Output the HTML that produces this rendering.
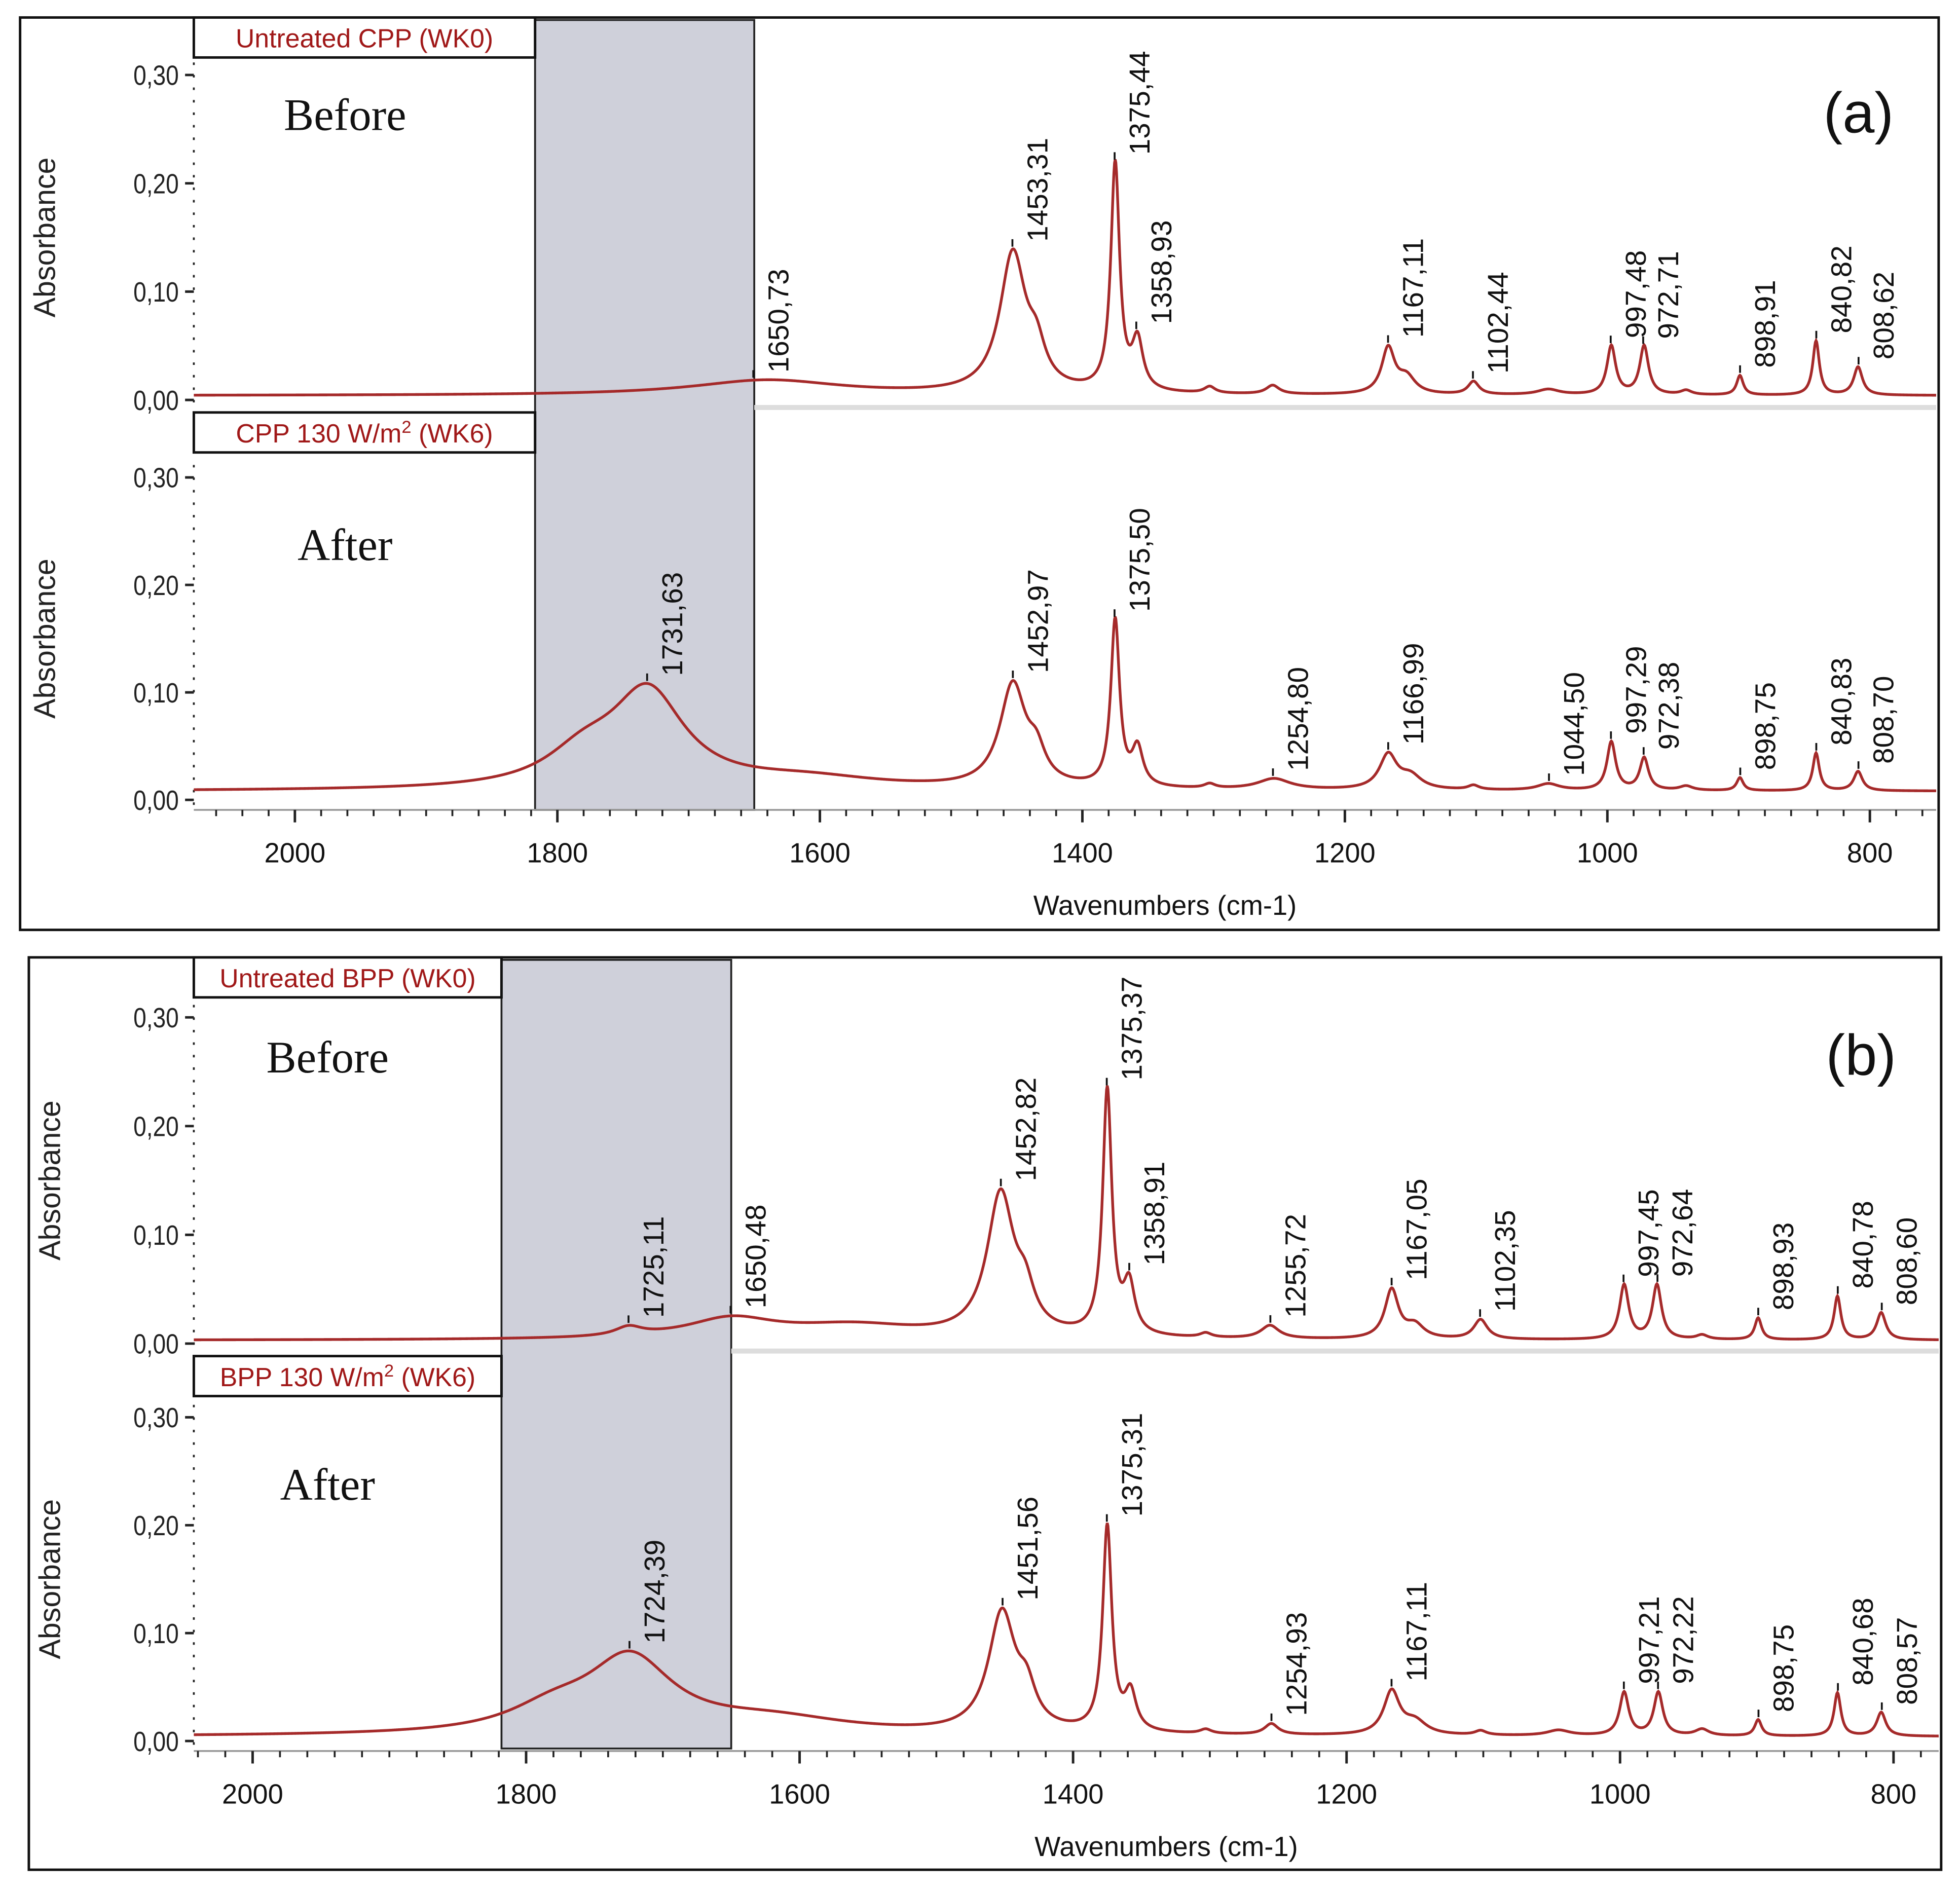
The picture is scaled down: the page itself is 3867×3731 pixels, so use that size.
<!DOCTYPE html>
<html><head><meta charset="utf-8">
<style>
html,body{margin:0;padding:0;background:#fff;}
svg{display:block;}
text{font-family:"Liberation Sans",Arial,sans-serif;}
.serif{font-family:"Liberation Serif",serif;}
</style></head>
<body>
<svg id="fig" width="3867" height="3731" viewBox="0 0 1568 1513" xmlns="http://www.w3.org/2000/svg"></svg>
<script>
// ---- Data: peak positions (cm-1), heights (absorbance), half-widths (cm-1) ----
const aTopPos    = [1640, 1453, 1435, 1375, 1358, 1303, 1255, 1167, 1153, 1102, 1045, 997, 972, 940, 899, 841, 809];
const aTopHeight = [0.014,0.128,0.03, 0.21, 0.045,0.006,0.008,0.042,0.015,0.012,0.005,0.045,0.045,0.004,0.018,0.05, 0.026];
const aTopWidth  = [70,   12,   8,    4,    5,    5,    6,    6,    8,    5,    10,   4,    4,    5,    3,    3,    4];
const aTopBase = 0.004;
const aTopLabels = ["1650,73","1453,31","1375,44","1358,93","1167,11","1102,44","997,48","972,71","898,91","840,82","808,62"];
const aTopLabelPos = [1650.73,1453.31,1375.44,1358.93,1167.11,1102.44,997.48,972.71,898.91,840.82,808.62];

const aBotPos    = [1731, 1780, 1610, 1453, 1435, 1375, 1358, 1303, 1254, 1167, 1150, 1102, 1045, 997, 972, 940, 899, 841, 809];
const aBotHeight = [0.088,0.028,0.01, 0.095,0.025,0.155,0.035,0.004,0.01, 0.032,0.012,0.004,0.006,0.045,0.03, 0.004,0.012,0.035,0.018];
const aBotWidth  = [34,   35,   70,   12,   8,    4,    5,    5,    15,   8,    10,   5,    10,   4,    4,    6,    3,    3,    4];
const aBotBase = 0.008;
const aBotLabels = ["1731,63","1452,97","1375,50","1254,80","1166,99","1044,50","997,29","972,38","898,75","840,83","808,70"];
const aBotLabelPos = [1731.63,1452.97,1375.50,1254.80,1166.99,1044.50,997.29,972.38,898.75,840.83,808.70];

const bTopPos    = [1725, 1650, 1560, 1453, 1435, 1375, 1359, 1303, 1256, 1167, 1150, 1102, 997, 973, 940, 899, 841, 809];
const bTopHeight = [0.008,0.018,0.012,0.13, 0.03, 0.225,0.045,0.004,0.012,0.045,0.012,0.018,0.05, 0.05, 0.004,0.02, 0.04, 0.025];
const bTopWidth  = [12,   40,   60,   12,   8,    4,    5,    5,    8,    6,    8,    6,    4,    4,    5,    3,    3,    4];
const bTopBase = 0.003;
const bTopLabels = ["1725,11","1650,48","1452,82","1375,37","1358,91","1255,72","1167,05","1102,35","997,45","972,64","898,93","840,78","808,60"];
const bTopLabelPos = [1725.11,1650.48,1452.82,1375.37,1358.91,1255.72,1167.05,1102.35,997.45,972.64,898.93,840.78,808.60];

const bBotPos    = [1724, 1780, 1620, 1452, 1434, 1375, 1358, 1303, 1255, 1167, 1150, 1102, 1045, 997, 972, 940, 899, 841, 809];
const bBotHeight = [0.068,0.02, 0.014,0.11, 0.03, 0.19, 0.035,0.004,0.01, 0.04, 0.012,0.004,0.005,0.04, 0.04, 0.006,0.015,0.04, 0.022];
const bBotWidth  = [38,   40,   70,   12,   8,    4,    5,    5,    6,    7,    10,   5,    10,   4,    4,    6,    3,    3,    4];
const bBotBase = 0.004;
const bBotLabels = ["1724,39","1451,56","1375,31","1254,93","1167,11","997,21","972,22","898,75","840,68","808,57"];
const bBotLabelPos = [1724.39,1451.56,1375.31,1254.93,1167.11,997.21,972.22,898.75,840.68,808.57];

const xTicks = [2000,1800,1600,1400,1200,1000,800];
const yTicks = [0,0.1,0.2,0.3];
const yTickLabels = ["0,00","0,10","0,20","0,30"];

const NS="http://www.w3.org/2000/svg";
const svg=document.getElementById('fig');
function el(tag,attrs,parent,txt){const e=document.createElementNS(NS,tag);for(const k in attrs)e.setAttribute(k,attrs[k]);if(txt!==undefined)e.textContent=txt;(parent||svg).appendChild(e);return e;}

function spectrum(pos,h,w,base,x){let v=base;for(let i=0;i<pos.length;i++){const d=(x-pos[i])/w[i];v+=h[i]/(1+d*d);}return v;}

function drawChart(g,cfg){
  const xs=v=>cfg.x0+(cfg.w0-v)*(cfg.x1-cfg.x0)/(cfg.w0-cfg.w1);
  const ys=v=>cfg.y0-v/0.3*(cfg.y0-cfg.y30);
  const ax=el('line',{x1:cfg.x0,y1:cfg.y30-10,x2:cfg.x0,y2:cfg.y0+4,stroke:'#222','stroke-width':1.5,'stroke-dasharray':'2,8'},g);
  
  yTicks.forEach((t,i)=>{
    const y=ys(t);
    el('line',{x1:cfg.x0-7,y1:y,x2:cfg.x0,y2:y,stroke:'#222','stroke-width':2},g);
    const tl=el('text',{x:cfg.x0-12,y:y+8,'text-anchor':'end','font-size':22,fill:'#222',transform:`translate(${cfg.x0-12},0) scale(0.85,1) translate(${-(cfg.x0-12)},0)`},g,yTickLabels[i]);
    
  });
  const yt=el('text',{x:0,y:0,'text-anchor':'middle','font-size':24,fill:'#222',transform:`translate(${cfg.yTitleX},${(cfg.y0+cfg.y30)/2}) rotate(-90)`},g,'Absorbance');
  
  let d='';
  for(let x=cfg.w0;x>=cfg.w1;x-=0.5){const v=spectrum(cfg.pos,cfg.h,cfg.wd,cfg.base,x);d+=(d?'L':'M')+xs(x).toFixed(2)+','+ys(v).toFixed(2);}
  const p=el('path',{d:d,fill:'none',stroke:'#a52a2a','stroke-width':2.2},g);
  
  cfg.labels.forEach((lab,i)=>{
    const w=cfg.labelPos[i];const v=spectrum(cfg.pos,cfg.h,cfg.wd,cfg.base,w);
    const px=xs(w),py=ys(v);
    el('line',{x1:px,y1:py-2,x2:px,y2:py-8,stroke:'#111','stroke-width':1.5},g);
    const t=el('text',{x:0,y:0,'font-size':23,fill:'#111',transform:`translate(${px+28},${py-6}) rotate(-90)`},g,lab);
    
  });
  return {xs,ys};
}

function panel(P){
  const g=el('g',{});
  
  const fr=el('rect',{x:P.bx,y:P.by,width:P.bw,height:P.bh,fill:'#fff',stroke:'#111','stroke-width':2},g);
  
  const sx0=P.x0+(P.w0-P.shade[0])*(P.x1-P.x0)/(P.w0-P.w1), sx1=P.x0+(P.w0-P.shade[1])*(P.x1-P.x0)/(P.w0-P.w1);
  const sh=el('rect',{x:sx0,y:P.by+2,width:sx1-sx0,height:P.shadeBottom-P.by-2,fill:'#cfd0da',stroke:'#222','stroke-width':1.5},g);
  
  el('line',{x1:sx1,y1:P.topY0+6,x2:P.x1,y2:P.topY0+6,stroke:'#ddd','stroke-width':4},g);
  el('line',{x1:P.x0,y1:P.botY0+8,x2:P.x1,y2:P.botY0+8,stroke:'#999','stroke-width':1.5},g);
  const c1=drawChart(g,{x0:P.x0,x1:P.x1,w0:P.w0,w1:P.w1,y0:P.topY0,y30:P.topY30,yTitleX:P.yTitleX,pos:P.t.pos,h:P.t.h,wd:P.t.w,base:P.t.base,labels:P.t.labels,labelPos:P.t.lp});
  const c2=drawChart(g,{x0:P.x0,x1:P.x1,w0:P.w0,w1:P.w1,y0:P.botY0,y30:P.botY30,yTitleX:P.yTitleX,pos:P.b.pos,h:P.b.h,wd:P.b.w,base:P.b.base,labels:P.b.labels,labelPos:P.b.lp});
  [[P.by,P.t.name],[P.topY0+10,P.b.name]].forEach(([y,n])=>{
    const r=el('rect',{x:P.x0,y:y,width:sx0-P.x0,height:32,fill:'#fff',stroke:'#111','stroke-width':2},g);
    
    const t=el('text',{x:(P.x0+sx0)/2,y:y+24,'text-anchor':'middle','font-size':21,fill:'#a01818'},g);
    t.innerHTML=n;
    
  });
  const b1=el('text',{x:P.beforeX,y:P.topY30+44,'text-anchor':'middle','font-size':36,fill:'#111',class:'serif'},g,'Before');
  
  const b2=el('text',{x:P.beforeX,y:P.botY30+66,'text-anchor':'middle','font-size':36,fill:'#111',class:'serif'},g,'After');
  
  const pl=el('text',{x:P.x1-34,y:P.topY30+46,'text-anchor':'end','font-size':46,fill:'#111'},g,P.letter);
  
  for(let w=2100;w>=700;w-=20){const x=c2.xs(w);if(x<P.x0||x>P.x1)continue;const major=w%200===0;
    el('line',{x1:x,y1:P.botY0+8,x2:x,y2:P.botY0+(major?18:13),stroke:'#222','stroke-width':major?2:1.5},g);}
  xTicks.forEach(w=>{const t=el('text',{x:c2.xs(w),y:P.botY0+50,'text-anchor':'middle','font-size':22,fill:'#111'},g,String(w));
    });
  const xt=el('text',{x:(P.x0+P.x1)/2+80,y:P.botY0+92,'text-anchor':'middle','font-size':22,fill:'#111'},g,'Wavenumbers (cm-1)');
  
}

panel({id:'a',letter:'(a)',bx:16,by:14,bw:1535,bh:730,x0:155,x1:1549,w0:2077,w1:749.5,shade:[1817,1650],
  topY0:320,topY30:60,botY0:640,botY30:382,shadeBottom:648,yTitleX:44,beforeX:276,
  t:{pos:aTopPos,h:aTopHeight,w:aTopWidth,base:aTopBase,labels:aTopLabels,lp:aTopLabelPos,name:'Untreated CPP (WK0)'},
  b:{pos:aBotPos,h:aBotHeight,w:aBotWidth,base:aBotBase,labels:aBotLabels,lp:aBotLabelPos,name:'CPP 130 W/m<tspan baseline-shift="super" font-size="14">2</tspan> (WK6)'}});
panel({id:'b',letter:'(b)',bx:23,by:766,bw:1530,bh:730,x0:155,x1:1551,w0:2043,w1:767,shade:[1818,1650],
  topY0:1075,topY30:814,botY0:1393,botY30:1134,shadeBottom:1399,yTitleX:48,beforeX:262,
  t:{pos:bTopPos,h:bTopHeight,w:bTopWidth,base:bTopBase,labels:bTopLabels,lp:bTopLabelPos,name:'Untreated BPP (WK0)'},
  b:{pos:bBotPos,h:bBotHeight,w:bBotWidth,base:bBotBase,labels:bBotLabels,lp:bBotLabelPos,name:'BPP 130 W/m<tspan baseline-shift="super" font-size="14">2</tspan> (WK6)'}});
</script>
</body></html>
